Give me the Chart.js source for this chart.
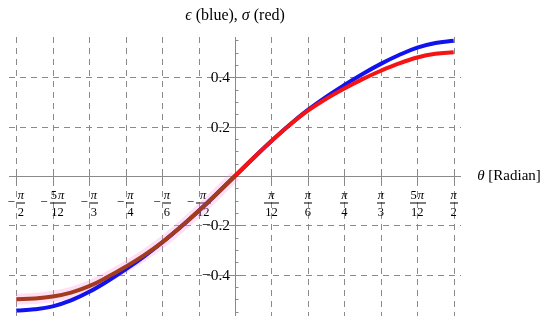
<!DOCTYPE html>
<html>
<head>
<meta charset="utf-8">
<script src="https://cdn.jsdelivr.net/npm/chart.js@4.4.1/dist/chart.umd.min.js"></script>
<style>
  html, body { margin: 0; padding: 0; background: #fff; }
  canvas { display: block; }
</style>
</head>
<body>
<canvas id="chart" width="550" height="324"></canvas>
<script>
// theta in degrees (plotted against pi-fraction ticks)
const thetaDeg = [-90, -82.5, -75, -67.5, -60, -52.5, -45, -37.5, -30, -22.5, -15, -7.5, 0,
  7.5, 15, 22.5, 30, 37.5, 45, 52.5, 60, 67.5, 75, 82.5, 90];
const epsilonBlue = [-0.546, -0.541, -0.529, -0.505, -0.47, -0.427, -0.379, -0.327, -0.27, -0.208, -0.142, -0.072, 0,
  0.072, 0.142, 0.208, 0.268, 0.321, 0.369, 0.414, 0.455, 0.491, 0.521, 0.54, 0.549];
const sigmaRed = [-0.5, -0.497, -0.489, -0.473, -0.447, -0.41, -0.368, -0.322, -0.269, -0.208, -0.142, -0.072, 0,
  0.072, 0.142, 0.207, 0.265, 0.313, 0.355, 0.393, 0.427, 0.457, 0.481, 0.496, 0.502];

const xTickDeg = [-90, -75, -60, -45, -30, -15, 15, 30, 45, 60, 75, 90];
const xTickNum = ['π', '5π', 'π', 'π', 'π', 'π', 'π', 'π', 'π', 'π', '5π', 'π'];
const xTickDen = ['2', '12', '3', '4', '6', '12', '12', '6', '4', '3', '12', '2'];
const yTickVals = [-0.4, -0.2, 0.2, 0.4];
const yTickLabels = ['−0.4', '−0.2', '0.2', '0.4'];

const titleText = ['ϵ', ' (blue), ', 'σ', ' (red)'];
const xAxisText = ['θ', ' [Radian]'];

const RED = '#f41414';
const BROWN = '#a33c1c';
const BLUE = '#1212ee';
const HALO = 'rgba(255, 150, 225, 0.3)';
const GRID = '#8a8a8a';
const SERIF = '"Liberation Serif", "DejaVu Serif", serif';

function drawRuns(ctx, parts, x, y, size) {
  // parts alternate: italic greek, upright text
  let w = 0;
  parts.forEach((p, i) => {
    ctx.font = (i % 2 === 0 ? 'italic ' : '') + size + 'px ' + SERIF;
    w += ctx.measureText(p).width;
  });
  let cx = x - w / 2;
  parts.forEach((p, i) => {
    ctx.font = (i % 2 === 0 ? 'italic ' : '') + size + 'px ' + SERIF;
    ctx.fillText(p, cx, y);
    cx += ctx.measureText(p).width;
  });
}

const crossAxes = {
  id: 'crossAxes',
  beforeDatasetsDraw(chart) {
    const { ctx, chartArea: a, scales: { x, y } } = chart;
    const x0 = x.getPixelForValue(0);
    const y0 = y.getPixelForValue(0);
    ctx.save();
    ctx.strokeStyle = GRID;
    ctx.lineWidth = 1;
    ctx.setLineDash([6, 5]);
    xTickDeg.forEach(t => {
      const px = Math.round(x.getPixelForValue(t)) + 0.5;
      ctx.beginPath(); ctx.moveTo(px, a.top); ctx.lineTo(px, a.bottom); ctx.stroke();
    });
    yTickVals.forEach(v => {
      const py = Math.round(y.getPixelForValue(v)) + 0.5;
      ctx.beginPath(); ctx.moveTo(a.left, py); ctx.lineTo(a.right, py); ctx.stroke();
    });
    ctx.setLineDash([]);
    // axes
    const ax = Math.round(x0) + 0.5, ay = Math.round(y0) + 0.5;
    ctx.beginPath(); ctx.moveTo(a.left, ay); ctx.lineTo(a.right, ay); ctx.stroke();
    ctx.beginPath(); ctx.moveTo(ax, a.top); ctx.lineTo(ax, a.bottom); ctx.stroke();
    // x ticks
    xTickDeg.forEach(t => {
      const px = Math.round(x.getPixelForValue(t)) + 0.5;
      ctx.beginPath(); ctx.moveTo(px, ay - 4); ctx.lineTo(px, ay + 4); ctx.stroke();
    });
    // y minor ticks
    for (let v = -0.55; v <= 0.551; v += 0.05) {
      const py = Math.round(y.getPixelForValue(v)) + 0.5;
      const major = Math.abs(Math.round(v * 10) - v * 10) < 1e-6 && Math.round(v * 10) % 2 === 0;
      ctx.beginPath(); ctx.moveTo(ax, py); ctx.lineTo(ax + (major ? 5 : 3), py); ctx.stroke();
    }

    // y labels
    ctx.fillStyle = '#000';
    ctx.font = '15.5px ' + SERIF;
    ctx.textAlign = 'right';
    ctx.textBaseline = 'middle';
    yTickVals.forEach((v, i) => {
      ctx.fillText(yTickLabels[i], x0 - 5, y.getPixelForValue(v) + 1);
    });

    // x labels as fractions
    ctx.textAlign = 'left';
    const barY = y0 + 27;
    xTickDeg.forEach((t, i) => {
      const px = x.getPixelForValue(t);
      const num = xTickNum[i];
      const den = xTickDen[i];
      ctx.font = '12.5px ' + SERIF;
      const denW = ctx.measureText(den).width;
      const lead = num.length > 1 ? num.slice(0, -1) : '';
      const leadW = ctx.measureText(lead).width;
      ctx.font = 'italic 12.5px ' + SERIF;
      const piW = ctx.measureText('π').width;
      const numW = leadW + (lead ? 1 : 0) + piW;
      const barW = Math.max(numW, denW) + 2;
      ctx.font = '13px ' + SERIF;
      const minusW = t < 0 ? ctx.measureText('−').width + 2 : 0;
      const total = minusW + barW;
      const left = px - total / 2;
      const fc = left + minusW + barW / 2;
      if (t < 0) {
        ctx.textBaseline = 'middle';
        ctx.fillText('−', left, barY);
      }
      ctx.fillRect(Math.round(fc - barW / 2), Math.round(barY) - 0.5, Math.round(barW), 1);
      ctx.textBaseline = 'alphabetic';
      let nx = fc - numW / 2;
      if (lead) {
        ctx.font = '12.5px ' + SERIF;
        ctx.fillText(lead, nx, barY - 4);
        nx += leadW + 1;
      }
      ctx.font = 'italic 12.5px ' + SERIF;
      ctx.fillText('π', nx, barY - 4);
      ctx.font = '12.5px ' + SERIF;
      ctx.textBaseline = 'top';
      ctx.fillText(den, fc - denW / 2, barY + 3);
    });
    ctx.restore();
  },
  afterDraw(chart) {
    const { ctx, scales: { x, y } } = chart;
    ctx.save();
    ctx.fillStyle = '#000';
    ctx.textAlign = 'left';
    ctx.textBaseline = 'middle';
    drawRuns(ctx, titleText, x.getPixelForValue(0), 16, 16);
    drawRuns(ctx, xAxisText, 509, y.getPixelForValue(0), 15);
    ctx.restore();
  }
};

const sigmaPoints = thetaDeg.map((t, i) => ({ x: t, y: sigmaRed[i] }));

new Chart(document.getElementById('chart').getContext('2d'), {
  type: 'line',
  data: {
    datasets: [
      {
        label: 'σ',
        data: sigmaPoints,
        borderColor: RED,
        segment: { borderColor: c => (c.p0.parsed.x < 0 ? BROWN : RED) },
        borderWidth: 4,
        pointRadius: 0,
        tension: 0.4,
        order: 0
      },
      {
        label: 'ε',
        data: thetaDeg.map((t, i) => ({ x: t, y: epsilonBlue[i] })),
        borderColor: BLUE,
        borderWidth: 4,
        pointRadius: 0,
        tension: 0.4,
        order: 1
      },
      {
        label: 'halo',
        data: sigmaPoints,
        borderColor: HALO,
        segment: { borderColor: c => (c.p0.parsed.x < 0 ? HALO : 'rgba(0,0,0,0)') },
        borderWidth: 11,
        pointRadius: 0,
        tension: 0.4,
        order: 2
      }
    ]
  },
  options: {
    responsive: false,
    animation: false,
    layout: { padding: { left: 9, right: 89, top: 37, bottom: 8 } },
    scales: {
      x: { type: 'linear', min: -93, max: 93, display: false },
      y: { min: -0.568, max: 0.564, display: false }
    },
    plugins: { legend: { display: false }, tooltip: { enabled: false } }
  },
  plugins: [crossAxes]
});
</script>
</body>
</html>
